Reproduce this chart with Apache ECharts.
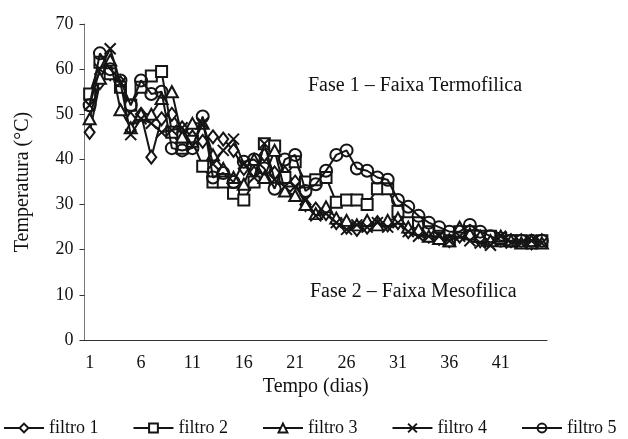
<!DOCTYPE html>
<html>
<head>
<meta charset="utf-8">
<script src="https://cdn.jsdelivr.net/npm/echarts@6/dist/echarts.min.js"></script>
<style>
  html, body { margin: 0; padding: 0; background: #fff; }
  #main { width: 628px; height: 439px; }
</style>
</head>
<body>
<div id="main"></div>
<script>
// days 1..45
var dias = [];
for (var d = 1; d <= 45; d++) dias.push(String(d));

var filtro1 = [46, 57, 59, 57, 49, 50, 40.5, 49, 50, 47, 45, 44, 45, 44.5, 42, 38, 37, 41, 37, 37,
  35, 30, 29, 28, 26, 25, 24.5, 25, 26, 25.5, 26, 24, 24, 23, 22.5, 22, 23, 24, 22, 22.5,
  22.5, 22, 22, 21.5, 22];
var filtro2 = [54.5, 61.5, 59, 56, 52, 56, 58.5, 59.5, 46, 42.5, 44, 38.5, 35, 35, 32.5, 31, 35, 43.5, 43, 36,
  39.5, 35, 35.5, 36, 30.5, 31, 31, 30, 33.5, 33.5, 28.5, 26, 26, 24, 23, 22, 24, 24, 23, 23,
  22.5, 22, 22, 21.5, 22];
var filtro3 = [49, 58, 62, 51, 47, 50, 50, 53.5, 55, 45, 48, 48, 41, 38, 36, 34.5, 40, 36, 42, 33,
  32, 30, 28, 29.5, 27, 26.5, 25.5, 26.5, 25.5, 26.5, 27, 25, 24.5, 23, 22.5, 22, 25, 23.5, 23, 22,
  23, 22, 21.5, 22, 21.5];
var filtro4 = [52, 60, 64.5, 57, 45.5, 49, 48, 46, 46.5, 47, 43, 48, 39, 42, 44.5, 39, 36, 43.5, 35.5, 34,
  34, 31, 27.5, 28, 26, 24.5, 25.5, 25, 26, 25, 26, 24, 23, 23, 23, 22, 23, 22, 21.5, 21,
  23, 21.5, 21.5, 22, 21.5];
var filtro5 = [52, 63.5, 60, 57.5, 52, 57.5, 54.5, 55, 42.5, 42, 42.5, 49.5, 36, 37, 35, 39.5, 40, 38, 33.5, 40,
  41, 33, 34.5, 37.5, 41, 42, 38, 37.5, 36, 35.5, 31, 29.5, 27.5, 26, 25, 24, 24, 25.5, 24, 23,
  22, 22, 22, 22, 22];

var nomes = ['filtro 1', 'filtro 2', 'filtro 3', 'filtro 4', 'filtro 5'];
var valores = [filtro1, filtro2, filtro3, filtro4, filtro5];
var simbolos = ['diamond', 'rect', 'triangle', 'path://M0,0L10,10M10,0L0,10', 'circle'];
var tamanhos = [[10, 13], 11, [12, 11], 11, 12];
var preench = ['#fff', '#fff', '#fff', 'none', 'transparent'];

var fonte = '"Liberation Serif", "Times New Roman", serif';

var chart = echarts.init(document.getElementById('main'));

var series = nomes.map(function (nome, i) {
  return {
    name: nome,
    type: 'line',
    data: valores[i],
    symbol: simbolos[i],
    symbolSize: tamanhos[i],
    showAllSymbol: true,
    animation: false,
    lineStyle: { color: '#151515', width: 2 },
    itemStyle: { color: preench[i], borderColor: '#151515', borderWidth: 2 },
    z: 2 + i
  };
});

chart.setOption({
  backgroundColor: '#fff',
  textStyle: { fontFamily: fonte },
  grid: { left: 84.5, right: 81, top: 24, bottom: 99 },
  legend: {
    bottom: -3,
    left: -2,
    itemWidth: 40,
    itemHeight: 11,
    itemGap: 34,
    textStyle: { fontFamily: fonte, fontSize: 18, color: '#111' },
    data: nomes
  },
  xAxis: {
    type: 'category',
    data: dias,
    boundaryGap: true,
    name: 'Tempo (dias)',
    nameLocation: 'middle',
    nameGap: 35,
    nameTextStyle: { fontFamily: fonte, fontSize: 20, color: '#111' },
    axisLine: { lineStyle: { color: '#333', width: 1 } },
    axisTick: { interval: 0, length: 5, lineStyle: { color: '#333' } },
    axisLabel: { interval: 4, fontFamily: fonte, fontSize: 18, color: '#111', margin: 14 },
    splitLine: { show: false }
  },
  yAxis: {
    type: 'value',
    min: 0,
    max: 70,
    interval: 10,
    name: 'Temperatura (°C)',
    nameLocation: 'middle',
    nameGap: 52,
    nameTextStyle: { fontFamily: fonte, fontSize: 20, color: '#111' },
    axisLine: { show: true, lineStyle: { color: '#777', width: 1 } },
    axisTick: { show: true, length: 5, lineStyle: { color: '#333' } },
    axisLabel: { fontFamily: fonte, fontSize: 18, color: '#111', margin: 11 },
    splitLine: { show: false }
  },
  graphic: [
    { type: 'text', left: 308, top: 76, style: { text: 'Fase 1 – Faixa Termofilica', font: '20px ' + fonte, fill: '#111' } },
    { type: 'text', left: 310, top: 282, style: { text: 'Fase 2 – Faixa Mesofilica', font: '20px ' + fonte, fill: '#111' } }
  ],
  series: series
});
</script>
</body>
</html>
